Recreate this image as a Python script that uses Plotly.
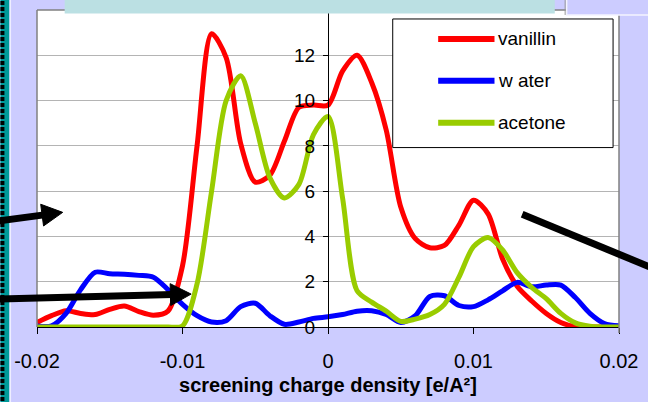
import plotly.graph_objects as go

# screening charge density grid, 0.001 e/A^2 steps
sigma = [round(-0.020 + 0.001 * i, 3) for i in range(41)]

vanillin = [0.20, 0.50, 0.72, 0.60, 0.55, 0.78, 0.93, 0.68, 0.52, 0.70,
            2.70, 8.00, 12.95, 11.90, 8.10, 6.40, 6.70, 8.20, 9.70, 9.80,
            9.80, 11.30, 12.00, 10.80, 8.70, 5.30, 3.90, 3.50, 3.60, 4.50,
            5.60, 5.00, 3.00, 1.80, 1.15, 0.60, 0.20, 0.02, 0.00, 0.00, 0.00]

water = [0.05, 0.05, 0.60, 1.65, 2.42, 2.35, 2.33, 2.28, 2.20, 1.65,
         1.00, 0.50, 0.22, 0.28, 0.90, 1.05, 0.50, 0.12, 0.22, 0.38,
         0.45, 0.55, 0.70, 0.72, 0.55, 0.20, 0.50, 1.35, 1.38, 0.95,
         0.90, 1.20, 1.60, 1.97, 1.78, 1.85, 1.85, 1.30, 0.60, 0.15, 0.05]

acetone = [0.00, 0.00, 0.00, 0.00, 0.00, 0.00, 0.00, 0.00, 0.00, 0.00,
           0.05, 1.90, 6.00, 10.00, 11.10, 9.00, 6.60, 5.70, 6.30, 8.50,
           9.30, 5.70, 1.60, 1.10, 0.70, 0.25, 0.35, 0.55, 1.00, 2.20,
           3.55, 3.95, 3.40, 2.40, 1.75, 1.25, 0.60, 0.18, 0.03, 0.00, 0.00]

series_names = ["vanillin", "w ater", "acetone"]
series_values = [vanillin, water, acetone]
series_colors = ["#FF0000", "#0000FF", "#99CC00"]

x_ticks = [-0.02, -0.01, 0, 0.01, 0.02]
x_tick_text = ["-0.02", "-0.01", "0", "0.01", "0.02"]
y_ticks = [0, 2, 4, 6, 8, 10, 12, 14]

W, H = 648, 402
ML, MR, MT, MB = 37, 22, 10, 74
PW, PH = W - ML - MR, H - MT - MB


def px(x):
    """pixel column -> paper x"""
    return (x - ML) / PW


def py(y):
    """pixel row -> paper y"""
    return (H - MB - y) / PH


fig = go.Figure()
for name, vals, col in zip(series_names, series_values, series_colors):
    fig.add_trace(go.Scatter(
        x=sigma, y=vals, name=name, mode="lines",
        line=dict(color=col, width=5, shape="spline", smoothing=0.8),
        showlegend=False, cliponaxis=True,
    ))

shapes = []
annotations = []

# plot frame (grey left / top / right edges)
for x0, y0, x1, y1 in [(ML, MT, ML, H - MB), (ML, MT, W - MR, MT),
                       (W - MR, MT, W - MR, H - MB + 6)]:
    shapes.append(dict(type="line", xref="paper", yref="paper",
                       x0=px(x0), y0=py(y0), x1=px(x1), y1=py(y1),
                       line=dict(color="#808080", width=1.5), layer="above"))

# slide border strip on the left
shapes.append(dict(type="rect", xref="paper", yref="paper",
                   x0=px(0), x1=px(9), y0=py(H + 5), y1=py(-5),
                   fillcolor="#009999", line=dict(width=0), layer="above"))
shapes.append(dict(type="line", xref="paper", yref="paper",
                   x0=px(2), x1=px(2), y0=py(-5), y1=py(H + 5),
                   line=dict(color="black", width=4, dash="4px,2px"), layer="above"))
shapes.append(dict(type="line", xref="paper", yref="paper",
                   x0=px(10), x1=px(10), y0=py(-5), y1=py(H + 5),
                   line=dict(color="#EEEEFF", width=1.5), layer="above"))

# heading banner across the top
shapes.append(dict(type="rect", xref="paper", yref="paper",
                   x0=px(65), x1=px(561), y0=py(13.5), y1=py(-5),
                   fillcolor="#BBE0E3", line=dict(width=0), layer="above"))
# panel in the top right corner
shapes.append(dict(type="rect", xref="paper", yref="paper",
                   x0=px(573), x1=px(660), y0=py(15), y1=py(-5),
                   fillcolor="#CCCCFF", line=dict(color="#F4F4FF", width=1.5),
                   layer="above"))
shapes.append(dict(type="line", xref="paper", yref="paper",
                   x0=px(571.5), x1=px(571.5), y0=py(15), y1=py(0),
                   line=dict(color="#999999", width=1), layer="above"))


def arrow(x0, y0, x1, y1, width=7, head_len=21, head_half=11, head=True):
    """thick black pointer with an optional triangular head at (x1, y1)"""
    dx, dy = x1 - x0, y1 - y0
    L = (dx * dx + dy * dy) ** 0.5
    ux, uy = dx / L, dy / L
    nx, ny = -uy, ux
    bx, by = (x1 - ux * head_len, y1 - uy * head_len) if head else (x1, y1)
    shapes.append(dict(type="line", xref="paper", yref="paper",
                       x0=px(x0), y0=py(y0), x1=px(bx + ux * 2), y1=py(by + uy * 2),
                       line=dict(color="black", width=width), layer="above"))
    if head:
        pts = [(x1, y1), (bx + nx * head_half, by + ny * head_half),
               (bx - nx * head_half, by - ny * head_half)]
        path = "M " + " L ".join(f"{px(a):.5f},{py(b):.5f}" for a, b in pts) + " Z"
        shapes.append(dict(type="path", xref="paper", yref="paper", path=path,
                           fillcolor="black", line=dict(color="black", width=1),
                           layer="above"))


arrow(-5, 222, 63, 213)
arrow(-5, 300, 193, 295)
arrow(528, 215, 670, 273, head=False)

# legend box
shapes.append(dict(type="rect", xref="paper", yref="paper",
                   x0=px(397), x1=px(620), y0=py(148), y1=py(19),
                   fillcolor="white", line=dict(color="black", width=1), layer="above"))
for i, (name, col) in enumerate(zip(series_names, series_colors)):
    yrow = 39 + 42 * i
    shapes.append(dict(type="line", xref="paper", yref="paper",
                       x0=px(443), x1=px(500), y0=py(yrow), y1=py(yrow),
                       line=dict(color=col, width=6), layer="above"))
    annotations.append(dict(xref="paper", yref="paper", x=px(502), y=py(yrow),
                            text=name, showarrow=False, xanchor="left", yanchor="middle",
                            font=dict(family="Arial, Liberation Sans", size=19, color="black")))

fig.update_layout(
    width=W, height=H,
    margin=dict(l=ML, r=MR, t=MT, b=MB, pad=0),
    paper_bgcolor="#CCCCFF",
    plot_bgcolor="white",
    shapes=shapes,
    annotations=annotations,
    showlegend=False,
    font=dict(family="Arial, Liberation Sans", color="black"),
    xaxis=dict(
        range=[-0.02, 0.02], tickvals=x_ticks, ticktext=x_tick_text,
        showgrid=False, zeroline=False, showline=True, linecolor="black", linewidth=1.2,
        ticks="outside", ticklen=6, tickcolor="black", tickwidth=1,
        tickfont=dict(size=20, family="Arial, Liberation Sans", color="black"),
        ticklabelstandoff=10,
        title=dict(text="<b>screening charge density [e/A²]</b>", standoff=6,
                   font=dict(size=20, family="Arial, Liberation Sans", color="black")),
    ),
    yaxis=dict(
        range=[0, 14], tickvals=y_ticks, anchor="free", position=0.5,
        showgrid=True, gridcolor="#B4B4B4", gridwidth=1.2,
        zeroline=False, showline=True, linecolor="black", linewidth=1.2,
        ticks="outside", ticklen=5, tickcolor="black", tickwidth=1,
        tickfont=dict(size=19, family="Arial, Liberation Sans", color="black"),
        ticklabelstandoff=4,
    ),
)

fig.write_html("out.html")
